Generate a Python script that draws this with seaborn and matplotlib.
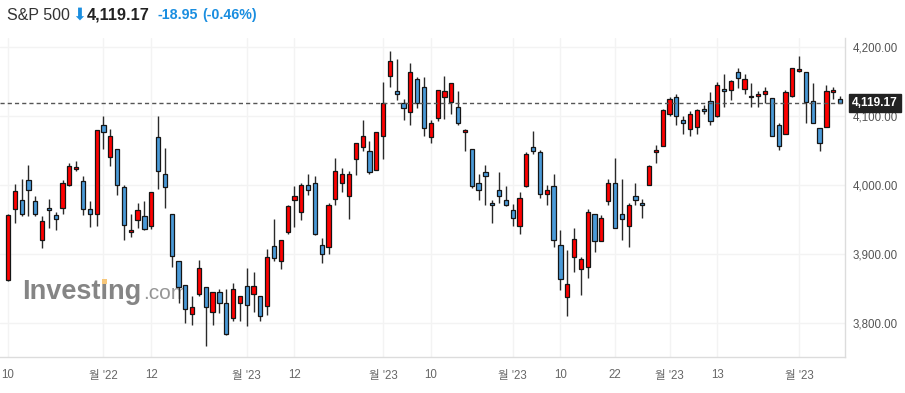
import numpy as np
import pandas as pd
import matplotlib
matplotlib.use("Agg")
import matplotlib.pyplot as plt
import seaborn as sns
from matplotlib.patches import Rectangle

# ---------------- data ----------------
dates = [
    "2022-11-10", "2022-11-11", "2022-11-14", "2022-11-15", "2022-11-16", "2022-11-17", "2022-11-18",
    "2022-11-21", "2022-11-22", "2022-11-23", "2022-11-25", "2022-11-28", "2022-11-29", "2022-11-30",
    "2022-12-01", "2022-12-02", "2022-12-05", "2022-12-06", "2022-12-07", "2022-12-08", "2022-12-09",
    "2022-12-12", "2022-12-13", "2022-12-14", "2022-12-15", "2022-12-16", "2022-12-19", "2022-12-20",
    "2022-12-21", "2022-12-22", "2022-12-23", "2022-12-27", "2022-12-28", "2022-12-29", "2022-12-30",
    "2023-01-03", "2023-01-04", "2023-01-05", "2023-01-06", "2023-01-09", "2023-01-10", "2023-01-11",
    "2023-01-12", "2023-01-13", "2023-01-17", "2023-01-18", "2023-01-19", "2023-01-20", "2023-01-23",
    "2023-01-24", "2023-01-25", "2023-01-26", "2023-01-27", "2023-01-30", "2023-01-31",
    "2023-02-01", "2023-02-02", "2023-02-03", "2023-02-06", "2023-02-07", "2023-02-08", "2023-02-09",
    "2023-02-10", "2023-02-13", "2023-02-14", "2023-02-15", "2023-02-16", "2023-02-17", "2023-02-21",
    "2023-02-22", "2023-02-23", "2023-02-24", "2023-02-27", "2023-02-28",
    "2023-03-01", "2023-03-02", "2023-03-03", "2023-03-06", "2023-03-07", "2023-03-08", "2023-03-09",
    "2023-03-10", "2023-03-13", "2023-03-14", "2023-03-15", "2023-03-16", "2023-03-17", "2023-03-20",
    "2023-03-21", "2023-03-22", "2023-03-23", "2023-03-24", "2023-03-27", "2023-03-28", "2023-03-29",
    "2023-03-30", "2023-03-31",
    "2023-04-03", "2023-04-04", "2023-04-05", "2023-04-06", "2023-04-10", "2023-04-11", "2023-04-12",
    "2023-04-13", "2023-04-14", "2023-04-17", "2023-04-18", "2023-04-19", "2023-04-20", "2023-04-21",
    "2023-04-24", "2023-04-25", "2023-04-26", "2023-04-27", "2023-04-28",
    "2023-05-01", "2023-05-02", "2023-05-03", "2023-05-04", "2023-05-05", "2023-05-08", "2023-05-09",
]

opens = [
    3863, 3965, 3978, 4007, 3977, 3920, 3967, 3957, 3967, 4001, 4023, 4006, 3965, 3958,
    4087, 4041, 4052, 3997, 3932, 3949, 3955, 3941, 4070, 4016, 3959, 3891, 3855, 3813,
    3842, 3853, 3817, 3845, 3830, 3807, 3830,
    3854, 3842, 3840, 3825, 3912, 3890, 3933, 3978, 3962, 4000, 4003, 3913, 3910, 3980,
    4003, 3984, 4038, 4055, 4049, 4022,
    4071, 4159, 4136, 4119, 4106, 4154, 4143, 4070, 4097, 4128, 4120, 4114, 4077, 4052,
    4003, 4019, 3974, 3993, 3978,
    3964, 3941, 3999, 4055, 4048, 3988, 3999, 3913, 3838, 3896, 3878, 3881, 3959, 3919,
    3977, 4003, 3959, 3941, 3984, 3974, 4000, 4048, 4057,
    4103, 4128, 4094, 4081, 4085, 4110, 4122, 4100, 4139, 4138, 4164, 4139, 4130, 4130,
    4132, 4126, 4088, 4075, 4130,
    4165, 4164, 4122, 4083, 4085, 4135, 4125,
]
highs = [
    3959, 4002, 4009, 4029, 3985, 3955, 3980, 3962, 4007, 4033, 4035, 4013, 3977, 4080,
    4100, 4081, 4052, 4001, 3958, 3975, 3977, 3991, 4101, 4054, 3959, 3891, 3855, 3840,
    3892, 3853, 3846, 3849, 3849, 3859, 3840,
    3880, 3874, 3840, 3907, 3951, 3920, 3972, 3999, 4004, 4016, 4014, 3923, 3974, 4039,
    4025, 4020, 4062, 4094, 4064, 4077,
    4149, 4194, 4183, 4125, 4177, 4157, 4157, 4094, 4138, 4159, 4148, 4136, 4081, 4052,
    4017, 4029, 3978, 4019, 3999,
    3973, 3991, 4048, 4078, 4051, 4001, 4017, 3935, 3906, 3938, 3896, 3965, 3959, 3957,
    4009, 4039, 4009, 3974, 4004, 3980, 4030, 4058, 4110,
    4128, 4133, 4100, 4107, 4110, 4116, 4135, 4149, 4162, 4152, 4170, 4162, 4148, 4136,
    4142, 4126, 4090, 4138, 4170,
    4187, 4164, 4148, 4083, 4146, 4142, 4130,
]
lows = [
    3861, 3946, 3956, 3956, 3956, 3909, 3938, 3935, 3958, 3999, 4021, 3957, 3939, 3941,
    4052, 4028, 3986, 3921, 3925, 3938, 3935, 3936, 3994, 3967, 3881, 3830, 3801, 3797,
    3839, 3767, 3798, 3815, 3783, 3803, 3803,
    3796, 3817, 3804, 3812, 3891, 3878, 3930, 3939, 3949, 3986, 3928, 3887, 3900, 3972,
    3991, 3951, 4015, 4049, 4016, 4022,
    4038, 4142, 4123, 4094, 4088, 4112, 4071, 4062, 4093, 4096, 4104, 4088, 4049, 3996,
    3978, 3971, 3945, 3975, 3970,
    3941, 3929, 3997, 4045, 3981, 3971, 3910, 3848, 3810, 3875, 3841, 3865, 3903, 3919,
    3972, 3938, 3920, 3910, 3971, 3952, 4000, 4033, 4057,
    4100, 4087, 4074, 4071, 4074, 4104, 4087, 4099, 4114, 4123, 4141, 4133, 4114, 4114,
    4119, 4072, 4051, 4075, 4128,
    4164, 4090, 4090, 4049, 4085, 4125, 4119,
]
closes = [
    3957, 3992, 3958, 3993, 3959, 3948, 3964, 3951, 4004, 4028, 4026, 3965, 3959, 4080,
    4077, 4072, 4000, 3943, 3935, 3964, 3936, 3991, 4020, 3998, 3897, 3853, 3820, 3823,
    3880, 3824, 3846, 3830, 3785, 3850, 3840,
    3826, 3854, 3810, 3896, 3894, 3920, 3970, 3984, 4000, 3993, 3930, 3900, 3972, 4020,
    4017, 4016, 4061, 4071, 4019, 4077,
    4119, 4180, 4133, 4112, 4164, 4119, 4083, 4090, 4138, 4136, 4148, 4091, 4080, 3999,
    3993, 4013, 3971, 3984, 3971,
    3952, 3981, 4046, 4049, 3987, 3993, 3920, 3864, 3857, 3922, 3893, 3961, 3919, 3952,
    4003, 3938, 3951, 3971, 3978, 3971, 4028, 4051, 4109,
    4125, 4101, 4091, 4104, 4109, 4107, 4093, 4146, 4136, 4151, 4155, 4154, 4128, 4133,
    4136, 4072, 4057, 4135, 4170,
    4168, 4120, 4091, 4062, 4136, 4138, 4119.17,
]

last_price = 4119.17
change = -18.95
change_pct = -0.46

tick_positions = [0, 14, 21, 35, 42, 55, 62, 74, 81, 89, 97, 104, 116]
tick_labels = ["10", "월 '22", "12", "월 '23", "12", "월 '23", "10", "월 '23",
               "10", "22", "월 '23", "13", "월 '23"]
y_ticks = [3800, 3900, 4000, 4100, 4200]

df = pd.DataFrame({"date": pd.to_datetime(dates), "open": opens, "high": highs,
                   "low": lows, "close": closes})
df["pos"] = np.arange(len(df))
df["up"] = df["close"] >= df["open"]

# ---------------- style ----------------
sns.set_theme(style="white")
plt.rcParams["font.family"] = ["Liberation Sans", "Noto Sans CJK KR", "DejaVu Sans"]

W, H = 905, 393
fig = plt.figure(figsize=(W / 100, H / 100), dpi=100)
fig.patch.set_facecolor("white")

ax_left, ax_right, ax_top, ax_bottom = 0, 845, 38, 357
ax = fig.add_axes([ax_left / W, 1 - ax_bottom / H, (ax_right - ax_left) / W, (ax_bottom - ax_top) / H])
ax.set_facecolor("white")

RED = "#ff0000"
BLUE = "#4a9ad8"
EDGE = "#151515"

colors = [RED if u else BLUE for u in df["up"]]

# wicks
ax.vlines(df["pos"], df["low"], df["high"], color="#2a2a2a", linewidth=1.0, zorder=2)
# bodies
body_bottom = np.minimum(df["open"], df["close"])
body_height = np.maximum(np.abs(df["close"] - df["open"]), 1.0)
ax.bar(df["pos"], body_height, bottom=body_bottom, width=0.62, color=colors,
       edgecolor=EDGE, linewidth=0.9, zorder=3)

# current price line
ax.axhline(last_price, color="#555555", linewidth=1.0, dashes=(3, 2.2), zorder=4)

# limits: candle spacing ~6.82 px, first candle at x=8 px
step = 6.82
ax.set_xlim(-(8 - ax_left) / step, (ax_right - 8) / step)
ppu = 0.69  # pixels per point
y_at_4200 = 47.3
ax.set_ylim(4200 - (ax_bottom - y_at_4200) / ppu, 4200 + (y_at_4200 - ax_top) / ppu)

# grid & ticks
ax.set_xticks(tick_positions)
ax.set_xticklabels(tick_labels)
ax.set_yticks(y_ticks)
ax.set_yticklabels([f"{v:,.2f}" for v in y_ticks])
ax.yaxis.tick_right()
ax.grid(True, color="#f3f3f3", linewidth=1.0)
ax.set_axisbelow(True)
ax.tick_params(axis="x", length=5, width=1, color="#e2e2e2", pad=4, labelsize=8.3,
               labelcolor="#666666")
ax.tick_params(axis="y", length=0, pad=5.5, labelsize=8.3, labelcolor="#555555")
for side in ["top", "left"]:
    ax.spines[side].set_visible(False)
for side in ["right", "bottom"]:
    ax.spines[side].set_visible(True)
    ax.spines[side].set_color("#dcdcdc")
    ax.spines[side].set_linewidth(1.0)

# price tag on the right axis
ax.annotate(f"{last_price:,.2f}", xy=(1.0, last_price), xycoords=("axes fraction", "data"),
            xytext=(5.0, 0), textcoords="offset points", ha="left", va="center",
            fontsize=8.6, fontweight="bold", color="white", zorder=10, annotation_clip=False,
            bbox=dict(boxstyle="square,pad=0.28", fc="#222222", ec="#222222"))

# watermark (behind the candles)
ax.text(22 / W, 1 - 299 / H, "Investing", transform=fig.transFigure, fontsize=19.5,
        fontweight="bold", color="#858585", ha="left", va="baseline", zorder=0.6)
ax.text(143 / W, 1 - 299 / H, ".com", transform=fig.transFigure, fontsize=15,
        color="#969696", ha="left", va="baseline", zorder=0.6)
fig.patches.append(Rectangle((102 / W, 1 - 284 / H), 5 / W, 5 / H, transform=fig.transFigure,
                             facecolor="#f7c77a", edgecolor="none", zorder=1))

# header
yh = 1 - 15 / H
fig.text(7 / W, yh, "S&P 500", fontsize=11.5, color="#333333", ha="left", va="center")
fig.text(72.5 / W, yh, "⬇", fontsize=12, color="#1a8ee0", ha="left", va="center",
         family=["DejaVu Sans"])
fig.text(87 / W, yh, f"{last_price:,.2f}", fontsize=11.7, fontweight="bold", color="#222222",
         ha="left", va="center")
fig.text(157 / W, yh, f"{change:.2f}", fontsize=10.3, fontweight="bold", color="#1a8ee0",
         ha="left", va="center")
fig.text(202 / W, yh, f"({change_pct:.2f}%)", fontsize=10.2, fontweight="bold", color="#1a8ee0",
         ha="left", va="center")

fig.savefig("out.png", dpi=100, facecolor="white")
